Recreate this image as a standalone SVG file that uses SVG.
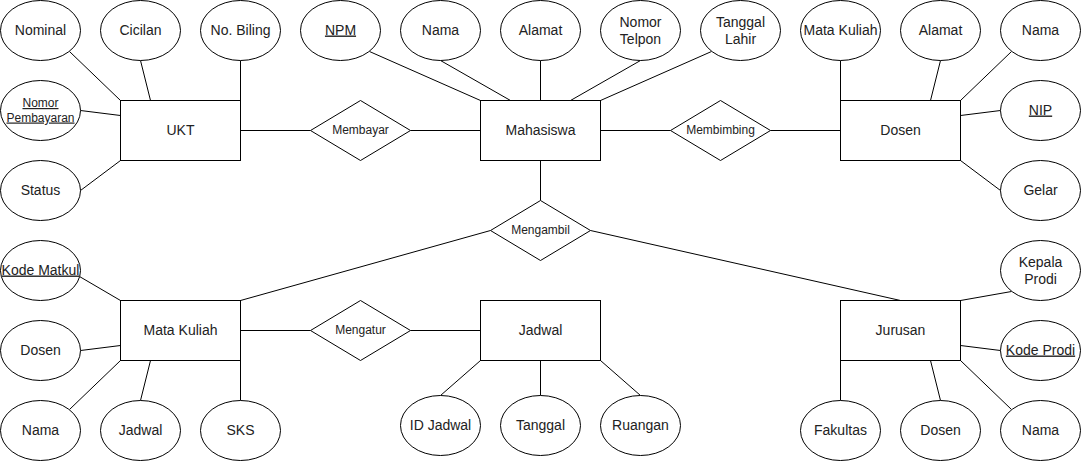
<svg xmlns="http://www.w3.org/2000/svg" width="1081" height="462" viewBox="0 0 1081 462">
<style>
  .shape { fill: #ffffff; stroke: #000000; stroke-width: 1; }
  .edge { stroke: #000000; stroke-width: 1; fill: none; }
  text { font-family: "Liberation Sans", Arial, Helvetica, sans-serif; fill: #222222; text-anchor: middle; }
  .t14 { font-size: 14px; }
  .t12 { font-size: 12px; }
  .key { text-decoration: underline; }
</style>
<rect x="0" y="0" width="1081" height="462" fill="#ffffff"/>
<g transform="translate(0.5,0.5)">
<g id="connectors">
  <line class="edge" x1="69" y1="51" x2="120" y2="100"/>
  <line class="edge" x1="140" y1="60" x2="150" y2="100"/>
  <line class="edge" x1="240" y1="60" x2="240" y2="100"/>
  <line class="edge" x1="80" y1="110" x2="120" y2="115"/>
  <line class="edge" x1="80" y1="190" x2="120" y2="160"/>
  <line class="edge" x1="240" y1="130" x2="310" y2="130"/>
  <line class="edge" x1="410" y1="130" x2="480" y2="130"/>
  <line class="edge" x1="369" y1="51" x2="480" y2="100"/>
  <line class="edge" x1="440" y1="60" x2="510" y2="100"/>
  <line class="edge" x1="540" y1="60" x2="540" y2="100"/>
  <line class="edge" x1="640" y1="60" x2="570" y2="100"/>
  <line class="edge" x1="711" y1="51" x2="600" y2="100"/>
  <line class="edge" x1="600" y1="130" x2="670" y2="130"/>
  <line class="edge" x1="770" y1="130" x2="840" y2="130"/>
  <line class="edge" x1="540" y1="160" x2="540" y2="200"/>
  <line class="edge" x1="490" y1="230" x2="240" y2="300"/>
  <line class="edge" x1="590" y1="230" x2="900" y2="300"/>
  <line class="edge" x1="840" y1="60" x2="840" y2="100"/>
  <line class="edge" x1="940" y1="60" x2="930" y2="100"/>
  <line class="edge" x1="1011" y1="51" x2="960" y2="100"/>
  <line class="edge" x1="1000" y1="110" x2="960" y2="115"/>
  <line class="edge" x1="1000" y1="190" x2="960" y2="160"/>
  <line class="edge" x1="79" y1="276" x2="120" y2="300"/>
  <line class="edge" x1="80" y1="350" x2="120" y2="345"/>
  <line class="edge" x1="69" y1="409" x2="120" y2="360"/>
  <line class="edge" x1="140" y1="400" x2="150" y2="360"/>
  <line class="edge" x1="240" y1="400" x2="240" y2="360"/>
  <line class="edge" x1="240" y1="330" x2="310" y2="330"/>
  <line class="edge" x1="410" y1="330" x2="480" y2="330"/>
  <line class="edge" x1="440" y1="395" x2="480" y2="360"/>
  <line class="edge" x1="540" y1="395" x2="540" y2="360"/>
  <line class="edge" x1="640" y1="395" x2="600" y2="360"/>
  <line class="edge" x1="1011" y1="291" x2="960" y2="300"/>
  <line class="edge" x1="1000" y1="350" x2="960" y2="345"/>
  <line class="edge" x1="1011" y1="409" x2="960" y2="360"/>
  <line class="edge" x1="940" y1="400" x2="930" y2="360"/>
  <line class="edge" x1="840" y1="400" x2="840" y2="360"/>
</g>

<!-- Entities -->
<g id="ukt"><rect class="shape" x="120" y="100" width="120" height="60"/><text class="t14" x="180" y="134">UKT</text></g>
<g id="mahasiswa"><rect class="shape" x="480" y="100" width="120" height="60"/><text class="t14" x="540" y="134">Mahasiswa</text></g>
<g id="dosen"><rect class="shape" x="840" y="100" width="120" height="60"/><text class="t14" x="900" y="134">Dosen</text></g>
<g id="mata-kuliah"><rect class="shape" x="120" y="300" width="120" height="60"/><text class="t14" x="180" y="334">Mata Kuliah</text></g>
<g id="jadwal"><rect class="shape" x="480" y="300" width="120" height="60"/><text class="t14" x="540" y="334">Jadwal</text></g>
<g id="jurusan"><rect class="shape" x="840" y="300" width="120" height="60"/><text class="t14" x="900" y="334">Jurusan</text></g>

<!-- Relationships -->
<g id="membayar"><polygon class="shape" points="360,100 410,130 360,160 310,130"/><text class="t12" x="360" y="133.5">Membayar</text></g>
<g id="membimbing"><polygon class="shape" points="720,100 770,130 720,160 670,130"/><text class="t12" x="720" y="133.5">Membimbing</text></g>
<g id="mengambil"><polygon class="shape" points="540,200 590,230 540,260 490,230"/><text class="t12" x="540" y="233.5">Mengambil</text></g>
<g id="mengatur"><polygon class="shape" points="360,300 410,330 360,360 310,330"/><text class="t12" x="360" y="333.5">Mengatur</text></g>

<!-- UKT attributes -->
<g id="ukt-nominal"><ellipse class="shape" cx="40" cy="30" rx="40" ry="30"/><text class="t14" x="40" y="34">Nominal</text></g>
<g id="ukt-cicilan"><ellipse class="shape" cx="140" cy="30" rx="40" ry="30"/><text class="t14" x="140" y="34">Cicilan</text></g>
<g id="ukt-nobiling"><ellipse class="shape" cx="240" cy="30" rx="40" ry="30"/><text class="t14" x="240" y="34">No. Biling</text></g>
<g id="ukt-nomorpembayaran"><ellipse class="shape" cx="40" cy="110" rx="40" ry="30"/><text class="t12 key" x="40" y="106.5">Nomor</text><text class="t12 key" x="40" y="121">Pembayaran</text></g>
<g id="ukt-status"><ellipse class="shape" cx="40" cy="190" rx="40" ry="30"/><text class="t14" x="40" y="194">Status</text></g>

<!-- Mahasiswa attributes -->
<g id="mhs-npm"><ellipse class="shape" cx="340" cy="30" rx="40" ry="30"/><text class="t14 key" x="340" y="34">NPM</text></g>
<g id="mhs-nama"><ellipse class="shape" cx="440" cy="30" rx="40" ry="30"/><text class="t14" x="440" y="34">Nama</text></g>
<g id="mhs-alamat"><ellipse class="shape" cx="540" cy="30" rx="40" ry="30"/><text class="t14" x="540" y="34">Alamat</text></g>
<g id="mhs-telpon"><ellipse class="shape" cx="640" cy="30" rx="40" ry="30"/><text class="t14" x="640" y="26">Nomor</text><text class="t14" x="640" y="43">Telpon</text></g>
<g id="mhs-lahir"><ellipse class="shape" cx="740" cy="30" rx="40" ry="30"/><text class="t14" x="740" y="26">Tanggal</text><text class="t14" x="740" y="43">Lahir</text></g>

<!-- Dosen attributes -->
<g id="dosen-matakuliah"><ellipse class="shape" cx="840" cy="30" rx="40" ry="30"/><text class="t14" x="840" y="34">Mata Kuliah</text></g>
<g id="dosen-alamat"><ellipse class="shape" cx="940" cy="30" rx="40" ry="30"/><text class="t14" x="940" y="34">Alamat</text></g>
<g id="dosen-nama"><ellipse class="shape" cx="1040" cy="30" rx="40" ry="30"/><text class="t14" x="1040" y="34">Nama</text></g>
<g id="dosen-nip"><ellipse class="shape" cx="1040" cy="110" rx="40" ry="30"/><text class="t14 key" x="1040" y="114">NIP</text></g>
<g id="dosen-gelar"><ellipse class="shape" cx="1040" cy="190" rx="40" ry="30"/><text class="t14" x="1040" y="194">Gelar</text></g>

<!-- Mata Kuliah attributes -->
<g id="mk-kode"><ellipse class="shape" cx="40" cy="270" rx="40" ry="30"/><text class="t14 key" x="40" y="274">Kode Matkul</text></g>
<g id="mk-dosen"><ellipse class="shape" cx="40" cy="350" rx="40" ry="30"/><text class="t14" x="40" y="354">Dosen</text></g>
<g id="mk-nama"><ellipse class="shape" cx="40" cy="430" rx="40" ry="30"/><text class="t14" x="40" y="434">Nama</text></g>
<g id="mk-jadwal"><ellipse class="shape" cx="140" cy="430" rx="40" ry="30"/><text class="t14" x="140" y="434">Jadwal</text></g>
<g id="mk-sks"><ellipse class="shape" cx="240" cy="430" rx="40" ry="30"/><text class="t14" x="240" y="434">SKS</text></g>

<!-- Jadwal attributes -->
<g id="jadwal-id"><ellipse class="shape" cx="440" cy="425" rx="40" ry="30"/><text class="t14" x="440" y="429">ID Jadwal</text></g>
<g id="jadwal-tanggal"><ellipse class="shape" cx="540" cy="425" rx="40" ry="30"/><text class="t14" x="540" y="429">Tanggal</text></g>
<g id="jadwal-ruangan"><ellipse class="shape" cx="640" cy="425" rx="40" ry="30"/><text class="t14" x="640" y="429">Ruangan</text></g>

<!-- Jurusan attributes -->
<g id="jur-kepala"><ellipse class="shape" cx="1040" cy="270" rx="40" ry="30"/><text class="t14" x="1040" y="266">Kepala</text><text class="t14" x="1040" y="283">Prodi</text></g>
<g id="jur-kode"><ellipse class="shape" cx="1040" cy="350" rx="40" ry="30"/><text class="t14 key" x="1040" y="354">Kode Prodi</text></g>
<g id="jur-fakultas"><ellipse class="shape" cx="840" cy="430" rx="40" ry="30"/><text class="t14" x="840" y="434">Fakultas</text></g>
<g id="jur-dosen"><ellipse class="shape" cx="940" cy="430" rx="40" ry="30"/><text class="t14" x="940" y="434">Dosen</text></g>
<g id="jur-nama"><ellipse class="shape" cx="1040" cy="430" rx="40" ry="30"/><text class="t14" x="1040" y="434">Nama</text></g>
</g>
</svg>
